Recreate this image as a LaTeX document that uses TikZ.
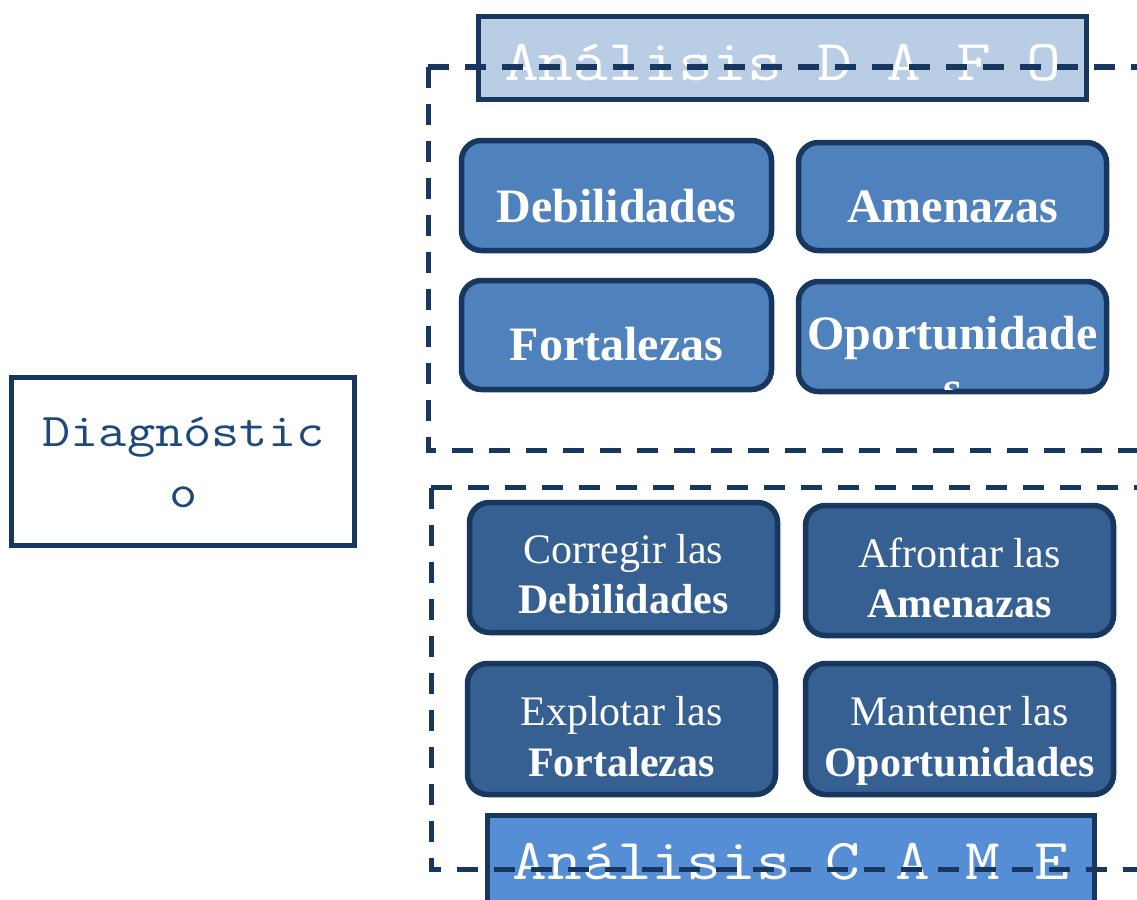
\documentclass[tikz,border=0pt]{standalone}
\usepackage{fontspec}
\usepackage{graphicx}
\newfontfamily\tnr{Liberation Serif}
\definecolor{navy}{HTML}{17375E}
\definecolor{dafofill}{HTML}{4F81BD}
\definecolor{camefill}{HTML}{366092}
\definecolor{titleA}{HTML}{B9CDE5}
\definecolor{titleB}{HTML}{558ED5}
\definecolor{diagtext}{HTML}{1F497D}
\newcommand\monostr[1]{\scalebox{1.165}[1]{\ttfamily #1}}
\begin{document}
\begin{tikzpicture}[x=1pt,y=-1pt,
  rbox/.style={draw=navy, line width=5.5pt, rounded corners=20pt, inner sep=0pt,
               minimum width=310pt, minimum height=110pt},
  dafobox/.style={rbox, fill=dafofill},
  camebox/.style={rbox, fill=camefill, minimum height=131pt},
  sqbox/.style={draw=navy, line width=5.5pt, inner sep=0pt},
  bigtxt/.style={text=white, inner sep=0pt, anchor=base, font=\tnr\bfseries\fontsize{48}{50}\selectfont},
  regtxt/.style={text=white, inner sep=0pt, anchor=base, font=\tnr\fontsize{42}{44}\selectfont},
  boldtxt/.style={text=white, inner sep=0pt, anchor=base, font=\tnr\bfseries\fontsize{42}{44}\selectfont},
  titletxt/.style={text=white, inner sep=0pt, anchor=base, font=\fontsize{58}{60}\selectfont},
  diagtxt/.style={text=diagtext, inner sep=0pt, anchor=base, font=\fontsize{47}{49}\selectfont},
  frame/.style={draw=navy, line width=5pt, dash pattern=on 21pt off 16pt}
]
\clip (0,0) rectangle (1137,899);
\fill[white] (0,0) rectangle (1137,899);

% title boxes
\node[sqbox, fill=titleA, minimum width=608pt, minimum height=83pt] (tdafo) at (782.5,58) {};
\node[titletxt] (tdafotxt) at (782.5,80) {\monostr{Análisis D A F O}};
\node[sqbox, fill=titleB, minimum width=607pt, minimum height=120pt] (tcame) at (791,875.5) {};
\node[titletxt] (tcametxt) at (791,879) {\monostr{Análisis C A M E}};

% DAFO boxes
\node[dafobox] (deb) at (616.5,195.5) {};
\node[bigtxt] (debt) at (616.5,222) {Debilidades};
\node[dafobox, minimum width=308pt, minimum height=108pt] (ame) at (952.5,196.5) {};
\node[bigtxt] (amet) at (952.5,222) {Amenazas};
\node[dafobox, minimum height=109pt] (fort) at (616.5,335) {};
\node[bigtxt] (fortt) at (616.5,360) {Fortalezas};
\node[dafobox, minimum width=308pt] (opo) at (952.5,336.5) {};
\begin{scope}
  \clip[rounded corners=18pt] (800.5,283.5) rectangle (1104.5,389.5);
  \node[bigtxt] (opot) at (952.5,349) {Oportunidade};
  \node[bigtxt] (opos) at (952.5,404) {s};
\end{scope}

% CAME boxes
\node[camebox, minimum width=308pt, minimum height=130pt] (cor) at (623.5,567.5) {};
\node[regtxt] (cora) at (623.5,563) {Corregir las};
\node[boldtxt] (corb) at (623.5,613) {Debilidades};
\node[camebox, minimum width=308pt, minimum height=130pt] (afr) at (959.5,570.5) {};
\node[regtxt] (afra) at (959.5,567) {Afrontar las};
\node[boldtxt] (afrb) at (959.5,617) {Amenazas};
\node[camebox, minimum width=308pt] (exp) at (621.5,729) {};
\node[regtxt] (expa) at (621.5,725) {Explotar las};
\node[boldtxt] (expb) at (621.5,776) {Fortalezas};
\node[camebox, minimum width=308pt] (man) at (959.5,729) {};
\node[regtxt] (mana) at (959.5,725) {Mantener las};
\node[boldtxt] (manb) at (959.5,776) {Oportunidades};

% diagnostic box
\node[sqbox, fill=white, minimum width=343pt, minimum height=168pt] (diag) at (183,461.5) {};
\node[diagtxt] (diaga) at (183.5,446) {\monostr{Diagnóstic}};
\node[diagtxt] (diagb) at (183.5,507) {\monostr{o}};

% dashed frames
\coordinate (fa1) at (1160,67);
\coordinate (fa2) at (428,67);
\coordinate (fa3) at (428,450.5);
\coordinate (fa4) at (1160,450.5);
\draw[frame] (fa2) -- (fa1);
\draw[frame] (fa2) -- (fa3) -- (fa4);
\coordinate (fb1) at (1160,487.5);
\coordinate (fb2) at (431,487.5);
\coordinate (fb3) at (431,869);
\coordinate (fb4) at (1160,869);
\draw[frame] (fb2) -- (fb1);
\draw[frame] (fb2) -- (fb3) -- (fb4);
\end{tikzpicture}
\end{document}
